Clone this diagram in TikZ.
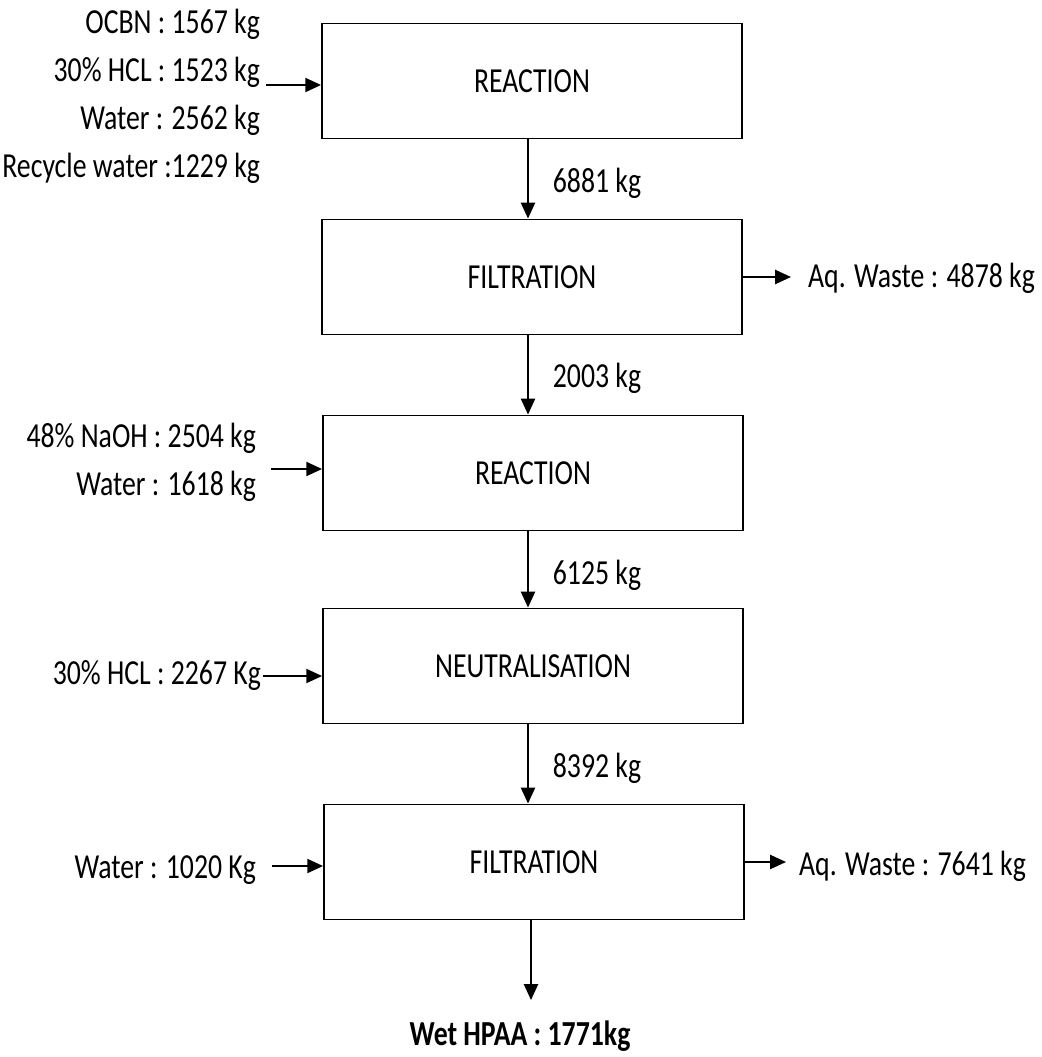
\documentclass[tikz,border=0pt]{standalone}
\usepackage{fontspec}
\setmainfont{Carlito}[FakeStretch=0.79]
\usetikzlibrary{arrows.meta,positioning}
\tikzset{
  procbox/.style={rectangle, draw, line width=1.1pt,
               minimum width=8.4cm, minimum height=2.3cm,
               font=\fontsize{20}{27}\selectfont},
  lbl/.style={font=\fontsize{20}{27.3}\selectfont, inner sep=1pt, align=right},
  arr/.style={-{Triangle[length=9pt,width=8pt]}, line width=1.1pt},
}
\begin{document}
\begin{tikzpicture}[x=0.02cm, y=-0.02cm]
    \useasboundingbox (0,0) rectangle (1041,1057);
    % process boxes
    \node[procbox] (r1) at (532,81) {REACTION};
    \node[procbox] (f1) at (532,277) {FILTRATION};
    \node[procbox] (r2) at (533,473) {REACTION};
    \node[procbox] (n1) at (533,666) {NEUTRALISATION};
    \node[procbox] (f2) at (534,862) {FILTRATION};
    % mass flows between steps
    \node[lbl] (m1) at (597,183) {6881 kg};
    \node[lbl] (m2) at (597,378) {2003 kg};
    \node[lbl] (m3) at (597,575) {6125 kg};
    \node[lbl] (m4) at (597,768) {8392 kg};
    \draw[arr] (r1.south -| 528,0) -- (f1.north -| 528,0);
    \draw[arr] (f1.south -| 528,0) -- (r2.north -| 528,0);
    \draw[arr] (r2.south -| 528,0) -- (n1.north -| 528,0);
    \draw[arr] (n1.south -| 528,0) -- (f2.north -| 528,0);
    % feeds
    \node[lbl, anchor=east] (in1) at (262,96)
      {OCBN : 1567 kg\\30\% HCL : 1523 kg\\Water : 2562 kg\\Recycle water :1229 kg};
    \coordinate (c1) at (266,85);
    \draw[arr] (c1) -- (c1 -| r1.west);
    \node[lbl, anchor=east] (in2) at (258,462)
      {48\% NaOH : 2504 kg\\Water : 1618 kg};
    \coordinate (c2) at (271,469);
    \draw[arr] (c2) -- (c2 -| r2.west);
    \node[lbl, anchor=east] (in3) at (263,676) {30\% HCL : 2267 Kg};
    \draw[arr] (in3.east) -- (in3.east -| n1.west);
    \node[lbl, anchor=east] (in4) at (258,870) {Water : 1020 Kg};
    \coordinate (c4) at (272,866);
    \draw[arr] (c4) -- (c4 -| f2.west);
    % wastes and product
    \node[lbl, anchor=west] (out1) at (806,278) {Aq. Waste : 4878 kg};
    \draw[arr] (f1.east) -- ([xshift=-0.3cm]out1.west |- f1.east);
    \node[lbl, anchor=west] (out2) at (797,866) {Aq. Waste : 7641 kg};
    \draw[arr] (f2.east) -- ([xshift=-0.22cm]out2.west |- f2.east);
    \node[lbl, font=\fontsize{20}{27}\selectfont\bfseries] (prod) at (520,1036) {Wet HPAA : 1771kg};
    \coordinate (pend) at (531,1000);
    \draw[arr] (f2.south -| pend) -- (pend);
\end{tikzpicture}
\end{document}
